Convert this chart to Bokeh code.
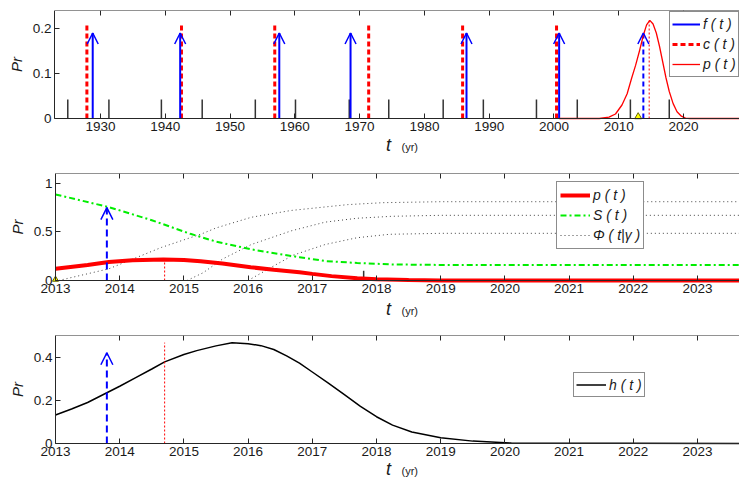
from bokeh.plotting import figure
from bokeh.models import (Range1d, FixedTicker, LinearAxis, Legend, LegendItem, Arrow,
                          OpenHead, ColumnDataSource, Label, PrintfTickFormatter)
from bokeh.layouts import column
from bokeh.embed import file_html
from bokeh.resources import INLINE

FONT = "Liberation Sans"

# ---------------- data : top panel ----------------
top_xticks = [1930, 1940, 1950, 1960, 1970, 1980, 1990, 2000, 2010, 2020]
top_yticks = [0, 0.1, 0.2]
top_ylabels = ["0", "0.1", "0.2"]
f_years = [1928.8, 1942.3, 1957.6, 1968.6, 1986.5, 2000.8]
f_top = 0.19
f_next_year = 2013.8
c_years = [1927.9, 1942.5, 1956.9, 1971.4, 1985.9, 2000.4]
c_top = 0.211
stem_years = [1924.95, 1931.3, 1939.4, 1945.7, 1953.9, 1960.1, 1968.4, 1974.5,
              1982.9, 1989.1, 1997.3, 2003.6, 2011.8, 2017.8]
stem_top = 0.042
p_top_t = [2000.8, 2007.0, 2008.5, 2009.5, 2010.5, 2011.3, 2012.0, 2012.6, 2013.2, 2013.8,
           2014.3, 2014.8, 2015.3, 2015.8, 2016.3, 2016.8, 2017.3, 2017.8, 2018.4, 2019.0,
           2019.6, 2020.3, 2021.0, 2029.0]
p_top_v = [0, 0, 0.003, 0.01, 0.03, 0.055, 0.09, 0.118, 0.15, 0.185,
           0.208, 0.218, 0.21, 0.19, 0.16, 0.125, 0.09, 0.06, 0.033, 0.015,
           0.006, 0.001, 0, 0]
peak_year = 2014.7
peak_top = 0.218
obs_year = 2013.0

# ---------------- data : middle panel ----------------
mid_xticks = [2013, 2014, 2015, 2016, 2017, 2018, 2019, 2020, 2021, 2022, 2023]
mid_yticks = [0, 0.5, 1]
mid_ylabels = ["0", "0.5", "1"]
p_mid_t = [2013.0, 2013.5, 2013.83, 2014.2, 2014.68, 2015.0, 2015.26, 2015.6, 2016.04,
           2016.4, 2016.8, 2017.0, 2017.3, 2017.7, 2018.0, 2018.5, 2019.0, 2023.7]
p_mid_v = [0.12, 0.16, 0.19, 0.207, 0.217, 0.21, 0.197, 0.175, 0.136,
           0.11, 0.085, 0.068, 0.045, 0.022, 0.012, 0.004, 0.0, 0.0]
S_t = [2013.0, 2013.83, 2014.5, 2015.1, 2015.5, 2016.05, 2016.5, 2016.8, 2017.2, 2017.7,
       2018.25, 2019.0, 2023.7]
S_v = [0.885, 0.755, 0.62, 0.48, 0.40, 0.32, 0.27, 0.24, 0.20, 0.18, 0.165, 0.16, 0.16]
phi1_t = [2013.05, 2013.83, 2014.65, 2015.28, 2015.5, 2016.05, 2016.67, 2017.55, 2018.1, 2019.0, 2023.7]
phi1_v = [0, 0.12, 0.34, 0.48, 0.54, 0.65, 0.72, 0.78, 0.80, 0.81, 0.81]
phi2_t = [2015.05, 2015.3, 2015.6, 2016.05, 2016.67, 2017.2, 2017.7, 2018.24, 2019.0, 2023.7]
phi2_v = [0, 0.08, 0.22, 0.37, 0.51, 0.60, 0.64, 0.66, 0.67, 0.67]
phi3_t = [2016.0, 2016.4, 2016.7, 2017.2, 2017.7, 2018.2, 2019.0, 2023.7]
phi3_v = [0, 0.15, 0.26, 0.37, 0.44, 0.475, 0.485, 0.485]
mid_arrow_top = 0.75
mid_peak_top = 0.217
mid_stem_top = 0.1

# ---------------- data : bottom panel ----------------
bot_yticks = [0, 0.2, 0.4]
bot_ylabels = ["0", "0.2", "0.4"]
h_t = [2013.0, 2013.25, 2013.5, 2013.8, 2014.0, 2014.25, 2014.5, 2014.7, 2015.0, 2015.2,
       2015.5, 2015.75, 2016.0, 2016.2, 2016.4, 2016.6, 2016.8, 2017.0, 2017.25, 2017.5,
       2017.75, 2018.0, 2018.25, 2018.55, 2019.0, 2019.5, 2020.1, 2023.7]
h_v = [0.132, 0.16, 0.19, 0.235, 0.265, 0.305, 0.345, 0.378, 0.412, 0.43,
       0.452, 0.466, 0.462, 0.453, 0.435, 0.406, 0.372, 0.331, 0.28, 0.226,
       0.172, 0.124, 0.085, 0.053, 0.027, 0.011, 0.002, 0]
bot_arrow_top = 0.42
bot_peak_top = 0.467

# ---------------- layout helpers ----------------
W = 739
AX = "#262626"
TXT = "#1a1a1a"


def make_fig(height, btop, plot_px, y1, ax_px, ax_x, px_per_x, xticks, yticks, ylabels):
    """Whole figure is the frame (below the top border); axes are placed inside it."""
    below_px = height - btop - plot_px
    y0 = -below_px * y1 / plot_px
    x_lo = ax_x - ax_px / px_per_x
    x_hi = ax_x + (W - ax_px) / px_per_x
    p = figure(width=W, height=height,
               x_range=Range1d(x_lo, x_hi), y_range=Range1d(y0, y1),
               x_axis_type=None, y_axis_type=None,
               output_backend="svg", toolbar_location=None,
               min_border_left=0, min_border_right=0,
               min_border_top=btop, min_border_bottom=0)
    p.outline_line_color = None
    p.grid.visible = False
    p.background_fill_color = "white"
    p.border_fill_color = "white"

    xb = LinearAxis(ticker=FixedTicker(ticks=xticks), fixed_location=0, bounds=(ax_x, x_hi))
    xt = LinearAxis(ticker=FixedTicker(ticks=xticks), fixed_location=y1, bounds=(ax_x, x_hi))
    yl = LinearAxis(ticker=FixedTicker(ticks=yticks), fixed_location=ax_x, bounds=(0, y1),
                    formatter=PrintfTickFormatter(format="%g"))
    yl.major_label_overrides = {float(v): s for v, s in zip(yticks, ylabels)}
    for a in (xb, xt, yl):
        a.major_tick_in = 5
        a.major_tick_out = 0
        a.minor_tick_line_color = None
        a.axis_line_color = AX
        a.major_tick_line_color = AX
        a.major_label_text_font = FONT
        a.major_label_text_font_size = "13.5px"
        a.major_label_text_color = TXT
        a.major_label_standoff = 3
    xt.major_label_text_color = None
    xt.major_label_text_alpha = 0
    yl.axis_label = "Pr"
    yl.axis_label_text_font = FONT
    yl.axis_label_text_font_style = "italic"
    yl.axis_label_text_font_size = "15px"
    yl.axis_label_text_color = TXT
    yl.axis_label_standoff = 5
    p.add_layout(xb, "below")
    p.add_layout(xt, "above")
    p.add_layout(yl, "left")
    return p, x_lo, x_hi


def xlabel(p, x_lo, x_hi, y1, plot_px, off_px):
    def dx(px):
        return x_lo + px * (x_hi - x_lo) / W
    y = -off_px * y1 / plot_px
    y2 = -(off_px + 2) * y1 / plot_px
    p.add_layout(Label(x=dx(388), y=y, text="t", text_font=FONT, text_font_style="italic",
                       text_font_size="18px", text_align="center", text_baseline="middle",
                       text_color=TXT))
    p.add_layout(Label(x=dx(401), y=y2, text="(yr)", text_font=FONT,
                       text_font_size="11px", text_align="left", text_baseline="middle",
                       text_color=TXT))


def make_legend(p, items, loc, gw, fs, pad, row):
    lg = Legend(items=items, location=loc, border_line_color=TXT, border_line_width=1,
                padding=pad, spacing=0, glyph_width=gw, glyph_height=row, label_height=row,
                label_standoff=3, label_text_font=FONT, label_text_font_style="italic",
                label_text_font_size=fs, label_text_color=TXT,
                background_fill_color="white", background_fill_alpha=1.0, margin=0)
    p.add_layout(lg)


def arrow_heads(p, xs, top, color, size):
    src = ColumnDataSource(dict(x=xs, y0=[0] * len(xs), y1=[top] * len(xs)))
    p.add_layout(Arrow(end=OpenHead(size=size, line_color=color, line_width=1.5),
                       x_start="x", y_start="y0", x_end="x", y_end="y1",
                       line_alpha=0, source=src))

# ---------------- top panel ----------------
TY = 0.24
H1, B1, P1 = 163, 10, 108
p1, t_lo, t_hi = make_fig(H1, B1, P1, TY, 54, 1922.9, 6.478,
                          top_xticks, top_yticks, top_ylabels)
p1.segment(x0=stem_years, y0=0, x1=stem_years, y1=stem_top, line_color="#333333", line_width=1.5)
r_c = p1.segment(x0=c_years, y0=0, x1=c_years, y1=c_top, line_color="red", line_width=3,
                 line_dash="5 3")
r_f = p1.segment(x0=f_years, y0=0, x1=f_years, y1=f_top, line_color="blue", line_width=2)
arrow_heads(p1, f_years, f_top, "blue", 11)
p1.segment(x0=[f_next_year], y0=0, x1=[f_next_year], y1=f_top, line_color="blue",
           line_width=2, line_dash="5 3")
arrow_heads(p1, [f_next_year], f_top, "blue", 11)
r_p = p1.line(p_top_t, p_top_v, line_color="red", line_width=1.3)
p1.segment(x0=[peak_year], y0=0, x1=[peak_year], y1=peak_top, line_color="red",
           line_width=1, line_dash="2 2")
p1.scatter([obs_year], [0.004], marker="triangle", size=7, fill_color="yellow",
           line_color="#666600")
make_legend(p1, [LegendItem(label="f ( t )", renderers=[r_f]),
                 LegendItem(label="c ( t )", renderers=[r_c]),
                 LegendItem(label="p ( t )", renderers=[r_p])],
            (669, H1 - 77), 28, "14px", 2, 20)
xlabel(p1, t_lo, t_hi, TY, P1, 26)

# ---------------- middle panel ----------------
MY = 1.1
H2, B2, P2 = 162, 10, 107
p2, m_lo, m_hi = make_fig(H2, B2, P2, MY, 55, 2013, 64.2,
                          mid_xticks, mid_yticks, mid_ylabels)
r_phi = p2.line(phi1_t, phi1_v, line_color="#444444", line_width=1, line_dash="1 3")
p2.line(phi2_t, phi2_v, line_color="#444444", line_width=1, line_dash="1 3")
p2.line(phi3_t, phi3_v, line_color="#444444", line_width=1, line_dash="1 3")
r_S = p2.line(S_t, S_v, line_color="#00ee00", line_width=2, line_dash="6 3 2 3")
p2.segment(x0=stem_years, y0=0, x1=stem_years, y1=mid_stem_top, line_color="#333333",
           line_width=1.5)
r_pm = p2.line(p_mid_t, p_mid_v, line_color="red", line_width=4)
p2.segment(x0=[peak_year], y0=0, x1=[peak_year], y1=mid_peak_top, line_color="red",
           line_width=1, line_dash="2 2")
p2.segment(x0=[f_next_year], y0=0, x1=[f_next_year], y1=mid_arrow_top, line_color="blue",
           line_width=2, line_dash="7 4")
arrow_heads(p2, [f_next_year], mid_arrow_top, "blue", 12)
p2.scatter([obs_year], [0.01], marker="triangle", size=6, fill_color="yellow",
           line_color="#666600")
make_legend(p2, [LegendItem(label="p ( t )", renderers=[r_pm]),
                 LegendItem(label="S ( t )", renderers=[r_S]),
                 LegendItem(label="Φ ( t|γ )", renderers=[r_phi])],
            (556, (H2 + 163) - 249), 30, "14px", 3, 20)
xlabel(p2, m_lo, m_hi, MY, P2, 28)

# ---------------- bottom panel ----------------
BY = 0.5
H3, B3, P3 = 154, 10, 108
p3, b_lo, b_hi = make_fig(H3, B3, P3, BY, 55, 2013, 64.2,
                          mid_xticks, bot_yticks, bot_ylabels)
r_h = p3.line(h_t, h_v, line_color="black", line_width=1.5)
p3.segment(x0=[peak_year], y0=0, x1=[peak_year], y1=bot_peak_top, line_color="red",
           line_width=1, line_dash="2 2")
p3.segment(x0=[f_next_year], y0=0, x1=[f_next_year], y1=bot_arrow_top, line_color="blue",
           line_width=2, line_dash="7 4")
arrow_heads(p3, [f_next_year], bot_arrow_top, "blue", 12)
make_legend(p3, [LegendItem(label="h ( t )", renderers=[r_h])],
            (573, 479 - 397), 30, "14px", 2, 19)
xlabel(p3, b_lo, b_hi, BY, P3, 25)

layout = column(p1, p2, p3, spacing=0)
open("out.html", "w").write(file_html(layout, INLINE))
